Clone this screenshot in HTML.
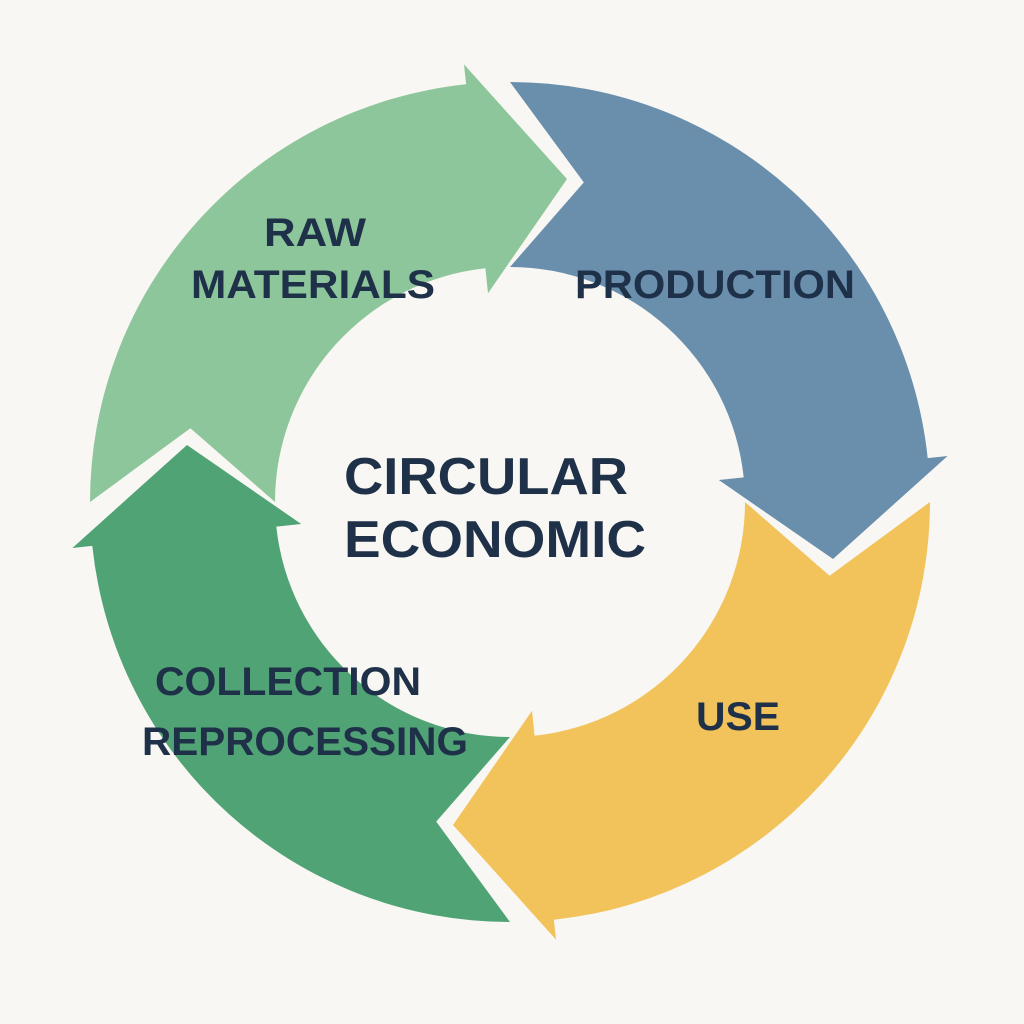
<!DOCTYPE html>
<html><head><meta charset="utf-8"><style>
html,body{margin:0;padding:0;background:#f8f7f3;}
svg{display:block}
text{font-family:"Liberation Sans",sans-serif;font-weight:bold;fill:#1f3049;text-anchor:middle}
</style></head><body>
<svg id="s" width="1024" height="1024" viewBox="0 0 1024 1024">
<rect width="1024" height="1024" fill="#f8f7f3"/>
<g id="arrows"></g>
<text x="315" y="246" font-size="40" textLength="102" lengthAdjust="spacingAndGlyphs">RAW</text>
<text x="313" y="298" font-size="40" textLength="244" lengthAdjust="spacingAndGlyphs">MATERIALS</text>
<text x="715" y="298" font-size="40" textLength="280" lengthAdjust="spacingAndGlyphs">PRODUCTION</text>
<text x="486" y="494" font-size="52" textLength="284" lengthAdjust="spacingAndGlyphs">CIRCULAR</text>
<text x="495" y="557" font-size="52" textLength="302" lengthAdjust="spacingAndGlyphs">ECONOMIC</text>
<text x="738" y="730" font-size="40" textLength="84" lengthAdjust="spacingAndGlyphs">USE</text>
<text x="288" y="695" font-size="40" textLength="266" lengthAdjust="spacingAndGlyphs">COLLECTION</text>
<text x="305" y="755" font-size="40" textLength="326" lengthAdjust="spacingAndGlyphs">REPROCESSING</text>
</svg>
<script>
(function(){
var cx=510,cy=502,R=420,r=235,HO=440,HI=210,M=328;
function P(rad,deg){var a=deg*Math.PI/180;return (cx+rad*Math.cos(a)).toFixed(1)+","+(cy+rad*Math.sin(a)).toFixed(1);}
var cols=["#8dc69b","#6a8fad","#f2c35a","#50a375"];
var g=document.getElementById("arrows"),out="";
for(var k=0;k<4;k++){
var t0=180+90*k,t1=264+90*k,t2=280+90*k;
var d="M"+P(R,t0)+" A"+R+","+R+" 0 0 1 "+P(R,t1)+" L"+P(HO,t1)+" L"+P(M,t2)+" L"+P(HI,t1)+" L"+P(r,t1)+" A"+r+","+r+" 0 0 0 "+P(r,t0)+" L"+P(M,t0+13)+" Z";
out+='<path d="'+d+'" fill="'+cols[k]+'"/>';
}
g.innerHTML=out;
})();
</script>
</body></html>
